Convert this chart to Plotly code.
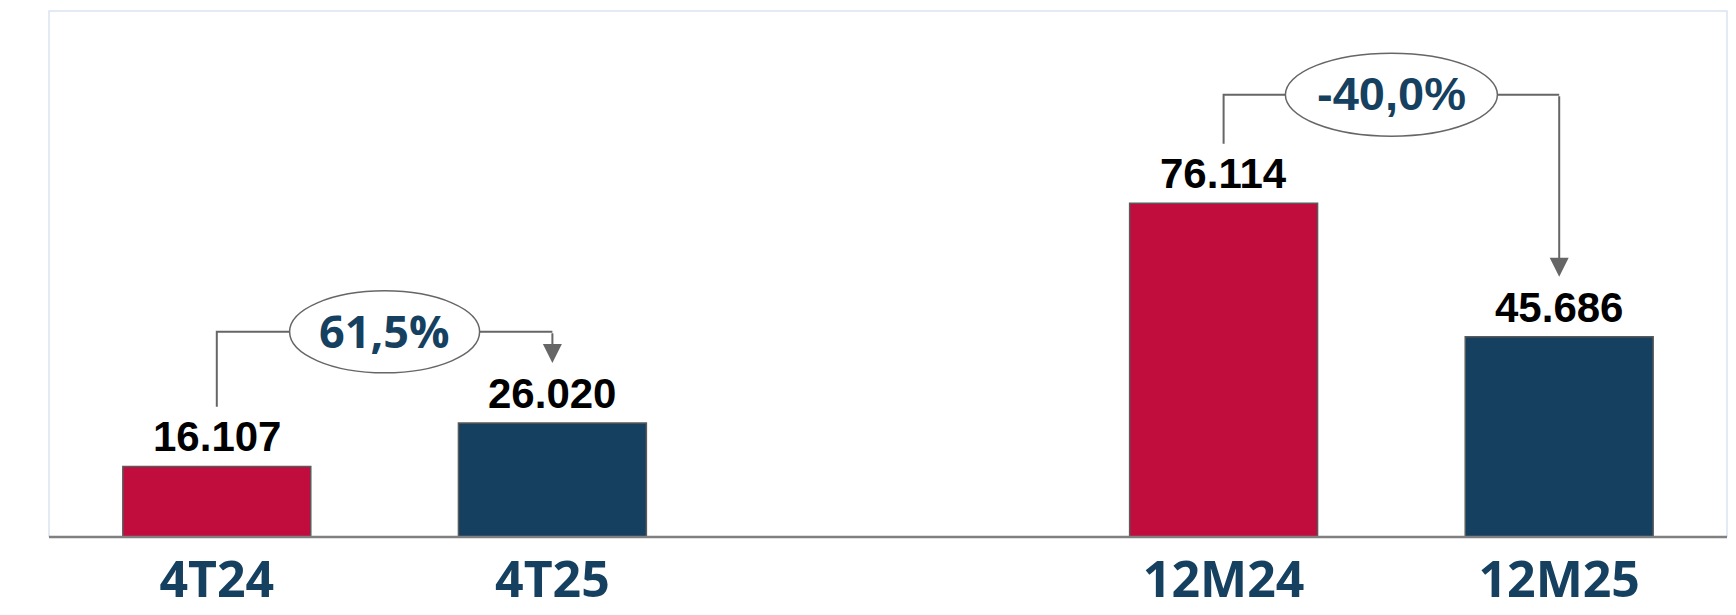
import plotly.graph_objects as go

# ---- data ----
categories = ["4T24", "4T25", "12M24", "12M25"]
values = [16107, 26020, 76114, 45686]
bar_colors = ["#C10D3D", "#15405F", "#C10D3D", "#15405F"]
spacer = " "
axis_order = ["4T24", "4T25", spacer, "12M24", "12M25"]
pairs = [(0, 1), (2, 3)]

NAVY = "#15405F"
GRAY = "#666666"

def fmt_thousands(v):
    return f"{v:,}".replace(",", ".")

def fmt_pct(a, b):
    p = (b / a - 1) * 100
    return f"{p:.1f}%".replace(".", ",")

fig = go.Figure()
fig.add_trace(go.Bar(
    x=categories, y=values,
    marker=dict(color=bar_colors, line=dict(color="#5A5A5A", width=1.5)),
    width=0.56, hoverinfo="skip", showlegend=False,
))

# value labels
for c, v in zip(categories, values):
    fig.add_annotation(x=c, y=v, text=f"<b>{fmt_thousands(v)}</b>", showarrow=False,
                       yanchor="bottom", yshift=4,
                       font=dict(family="Liberation Sans", size=42, color="black"))

# bracket layout (heights above bar values in axis units)
start_gap = 13600
tip_gap = 13700
line_levels = [46800, 100900]
ell_sizes = [(190, 82), (212, 83)]
pct_fonts = [dict(family="Open Sans", size=45, color=NAVY),
             dict(family="Liberation Sans", size=47, color=NAVY)]

for k, (i, j) in enumerate(pairs):
    ci, cj = categories[i], categories[j]
    vi, vj = values[i], values[j]
    ly = line_levels[k]
    xi = axis_order.index(ci)
    xj = axis_order.index(cj)
    xm = (xi + xj) / 2
    fig.add_shape(type="path", xref="x", yref="y",
                  path=f"M {xi},{vi + start_gap} L {xi},{ly} L {xj},{ly}",
                  line=dict(color=GRAY, width=2))
    fig.add_annotation(x=xj, y=vj + tip_gap, ax=xj, ay=ly, xref="x", yref="y",
                       axref="x", ayref="y", text="", showarrow=True,
                       arrowhead=2, arrowsize=1.9, arrowwidth=2, arrowcolor=GRAY,
                       standoff=0, startstandoff=0)
    w, h = ell_sizes[k]
    fig.add_shape(type="circle", xref="x", yref="y", xsizemode="pixel", ysizemode="pixel",
                  xanchor=xm, yanchor=ly, x0=-w / 2, x1=w / 2, y0=-h / 2, y1=h / 2,
                  line=dict(color=GRAY, width=1.5), fillcolor="white", layer="above")
    fig.add_annotation(x=xm, y=ly, text=f"<b>{fmt_pct(vi, vj)}</b>", showarrow=False,
                       font=pct_fonts[k], yshift=1)

# frame
fig.add_shape(type="path", xref="paper", yref="paper",
              path="M 0,0 L 0,1 L 1,1 L 1,0", line=dict(color="#DCE3EF", width=1.5))
fig.add_shape(type="line", xref="paper", yref="paper", x0=0, x1=1, y0=0, y1=0,
              line=dict(color="#808080", width=2.5), layer="above")

# page body has an 8px margin; size the figure so the page is exactly 1736x615
fig.update_layout(
    width=1720, height=599,
    margin=dict(l=41, r=1, t=3, b=70, autoexpand=False),
    paper_bgcolor="white", plot_bgcolor="white",
    xaxis=dict(type="category", categoryorder="array", categoryarray=axis_order,
               range=[-0.5, 4.5], showgrid=False, showline=False, zeroline=False,
               automargin=False, ticks="", ticklabelstandoff=9,
               tickfont=dict(family="Open Sans", size=50, color=NAVY)),
    yaxis=dict(range=[0, 120000], visible=False, showgrid=False, zeroline=False,
               automargin=False),
    font=dict(family="Liberation Sans"),
)
fig.update_xaxes(tickvals=axis_order, ticktext=[f"<b>{c}</b>" if c.strip() else "" for c in axis_order])

fig.write_html("out.html", config={"displayModeBar": False})
